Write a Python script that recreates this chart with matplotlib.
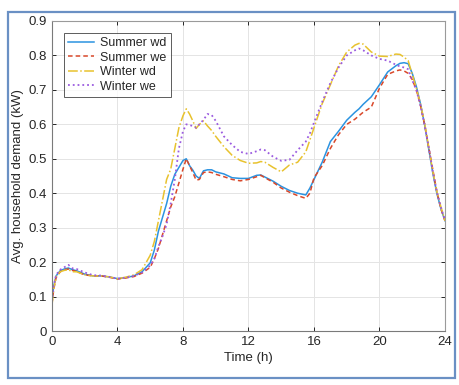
import matplotlib
matplotlib.use("Agg")
import matplotlib.pyplot as plt
from matplotlib.patches import Rectangle

plt.rcParams['font.family'] = ['Liberation Sans', 'DejaVu Sans']

hours = [0, 0.1, 0.25, 0.5, 0.75, 1.0, 1.25, 1.5, 2.0, 2.5,
         3.0, 3.5, 4.0, 4.5, 5.0, 5.5, 6.0, 6.25, 6.5, 6.75,
         7.0, 7.25, 7.5, 7.75, 8.0, 8.2, 8.4, 8.6, 8.8, 9.0,
         9.25, 9.5, 9.75, 10.0, 10.5, 11.0, 11.5, 12.0, 12.5, 12.75,
         13.0, 13.5, 14.0, 14.5, 15.0, 15.5, 15.75, 16.0, 16.5, 17.0,
         17.5, 18.0, 18.5, 18.75, 19.0, 19.5, 20.0, 20.5, 21.0, 21.25,
         21.5, 21.75, 22.0, 22.25, 22.5, 22.75, 23.0, 23.25, 23.5, 23.75, 24.0]

summer_wd = [0.09, 0.13, 0.16, 0.175, 0.18, 0.183, 0.178, 0.175, 0.165, 0.16,
             0.16, 0.157, 0.152, 0.155, 0.16, 0.172, 0.198, 0.235, 0.29, 0.33,
             0.37, 0.42, 0.455, 0.475, 0.495, 0.50, 0.48, 0.467, 0.45, 0.443,
             0.465, 0.468, 0.468, 0.462, 0.456, 0.445, 0.443, 0.443, 0.452, 0.453,
             0.447, 0.435, 0.42, 0.408, 0.40, 0.395, 0.415, 0.44, 0.49, 0.55,
             0.58, 0.612, 0.635, 0.645, 0.658, 0.68, 0.715, 0.752, 0.77, 0.777,
             0.779, 0.776, 0.748, 0.71, 0.66, 0.60, 0.53, 0.46, 0.40, 0.355, 0.32]

summer_we = [0.08, 0.12, 0.155, 0.172, 0.178, 0.18, 0.176, 0.173, 0.163, 0.16,
             0.16, 0.156, 0.151, 0.154, 0.158, 0.168, 0.185, 0.21, 0.24, 0.28,
             0.32, 0.36, 0.39, 0.43, 0.47, 0.50, 0.48, 0.46, 0.438, 0.44,
             0.46, 0.462, 0.46, 0.455, 0.448, 0.44, 0.436, 0.44, 0.448, 0.452,
             0.445, 0.432, 0.415, 0.403, 0.393, 0.385, 0.40, 0.445, 0.48, 0.53,
             0.57, 0.60, 0.615, 0.625, 0.635, 0.65, 0.705, 0.745, 0.755, 0.758,
             0.755, 0.748, 0.73, 0.70, 0.655, 0.60, 0.535, 0.47, 0.405, 0.355, 0.32]

winter_wd = [0.075, 0.12, 0.158, 0.172, 0.176, 0.178, 0.172, 0.172, 0.163, 0.16,
             0.16, 0.157, 0.152, 0.156, 0.163, 0.178, 0.22, 0.26, 0.32, 0.38,
             0.44, 0.47, 0.53, 0.59, 0.625, 0.645, 0.63, 0.61, 0.588, 0.60,
             0.61, 0.595, 0.582, 0.565, 0.535, 0.51, 0.495, 0.487, 0.488, 0.492,
             0.49, 0.475, 0.462, 0.482, 0.49, 0.52, 0.555, 0.59, 0.66, 0.715,
             0.77, 0.81, 0.83, 0.835, 0.833, 0.81, 0.798, 0.797, 0.804, 0.803,
             0.795, 0.785, 0.745, 0.705, 0.66, 0.605, 0.535, 0.465, 0.405, 0.36, 0.32]

winter_we = [0.085, 0.13, 0.163, 0.178, 0.185, 0.192, 0.182, 0.18, 0.17, 0.162,
             0.161, 0.157, 0.152, 0.155, 0.16, 0.17, 0.19, 0.21, 0.245, 0.275,
             0.31, 0.37, 0.44, 0.53, 0.58, 0.60, 0.598, 0.595, 0.59, 0.60,
             0.613, 0.63, 0.627, 0.61, 0.565, 0.54, 0.52, 0.514, 0.522, 0.527,
             0.525, 0.506, 0.494, 0.497, 0.525, 0.55, 0.574, 0.605, 0.665, 0.72,
             0.765, 0.80, 0.815, 0.82, 0.815, 0.80, 0.79, 0.785, 0.773, 0.768,
             0.765, 0.76, 0.728, 0.70, 0.655, 0.60, 0.535, 0.465, 0.405, 0.36, 0.32]

series_labels = ['Summer wd', 'Summer we', 'Winter wd', 'Winter we']
xticks = [0, 4, 8, 12, 16, 20, 24]
yticks = [0, 0.1, 0.2, 0.3, 0.4, 0.5, 0.6, 0.7, 0.8, 0.9]

fig = plt.figure(figsize=(4.59, 3.85), dpi=100)
ax = fig.add_axes([52/459, 1-331/385, 393/459, 310/385])

styles = [
    dict(color='#2b93e0', linestyle='-', linewidth=1.1),
    dict(color='#d9482a', linestyle=(0, (3.0, 2.0)), linewidth=1.1),
    dict(color='#e8c22e', linestyle='-.', linewidth=1.1),
    dict(color='#9b5be0', linestyle=':', linewidth=1.3),
]
for vals, lab, st in zip([summer_wd, summer_we, winter_wd, winter_we], series_labels, styles):
    ax.plot(hours, vals, label=lab, **st)

ax.set_xlim(0, 24)
ax.set_ylim(0, 0.9)
ax.set_xticks(xticks)
ax.set_yticks(yticks)
ax.set_xticklabels([str(v) for v in xticks])
ax.set_yticklabels(['0'] + ['%.1f' % v for v in yticks[1:]])
ax.grid(True, color='#e4e4e4', linewidth=0.7)
ax.set_axisbelow(True)
ax.tick_params(direction='in', top=True, right=True, length=3, width=0.7,
               colors='#262626', labelsize=9.5, labelcolor='#262626')
for sp in ax.spines.values():
    sp.set_color('#9a9a9a')
    sp.set_linewidth(0.8)
ax.spines['left'].set_color('#7a7a7a')
ax.spines['bottom'].set_color('#7a7a7a')

ax.set_xlabel('Time (h)', fontsize=9.5, color='#262626', labelpad=3)
ax.set_ylabel('Avg. household demand (kW)', fontsize=9.5, color='#262626', labelpad=3)

leg = ax.legend(loc='upper left', bbox_to_anchor=(0.03, 0.962), borderaxespad=0,
                fontsize=9, frameon=True, fancybox=False, handlelength=2.1,
                labelspacing=0.2, handletextpad=0.45, borderpad=0.35)
leg.get_frame().set_edgecolor('#333333')
leg.get_frame().set_linewidth(0.7)
for t in leg.get_texts():
    t.set_color('#262626')

fig.patches.append(Rectangle((8/459, 7/385), 447/459, 366/385, transform=fig.transFigure,
                             fill=False, edgecolor='#6a90c4', linewidth=1.6))

fig.savefig('out.png', dpi=100)
